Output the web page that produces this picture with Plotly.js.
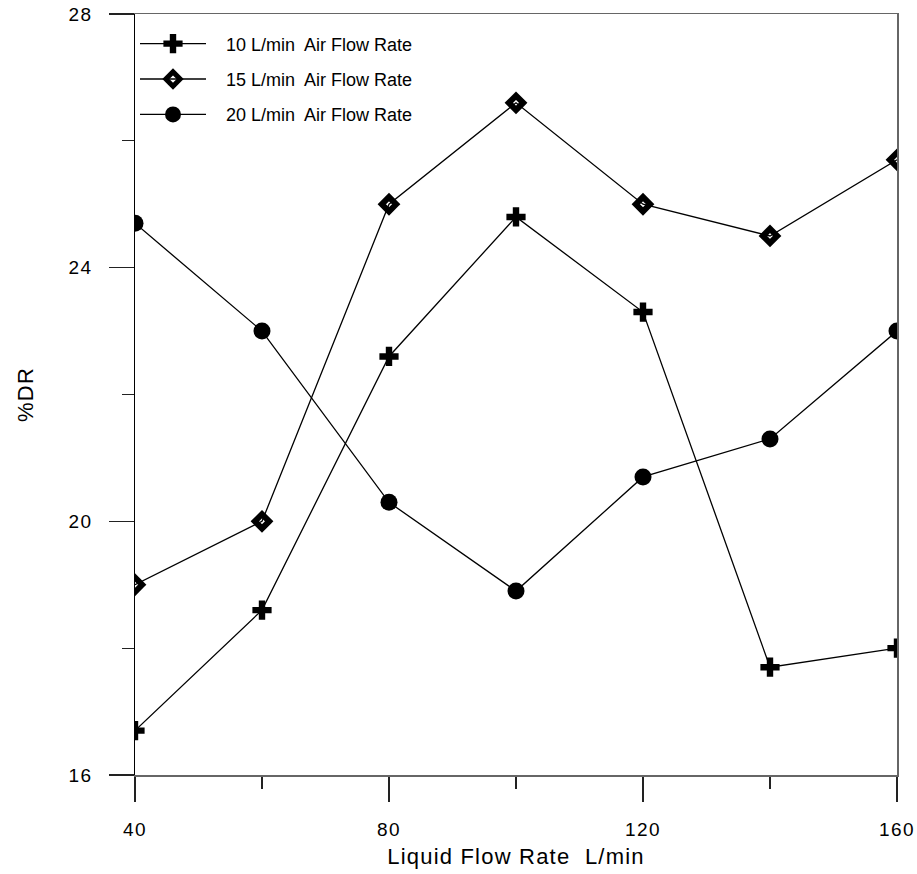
<!DOCTYPE html>
<html>
<head>
<meta charset="utf-8">
<script src="https://cdn.plot.ly/plotly-3.0.1.min.js"></script>
<style>
html,body{margin:0;padding:0;background:#fff;}
#chart{width:917px;height:874px;}
.main-svg .xtick text, .main-svg .ytick text{letter-spacing:1.5px;}
.main-svg .g-xtitle text, .main-svg .g-ytitle text{letter-spacing:1.2px;}
</style>
</head>
<body>
<div id="chart"></div>
<script>
var liquidFlow = [40, 60, 80, 100, 120, 140, 160];
var dr10 = [16.7, 18.6, 22.6, 24.8, 23.3, 17.7, 18.0];
var dr15 = [19.0, 20.0, 25.0, 26.6, 25.0, 24.5, 25.7];
var dr20 = [24.7, 23.0, 20.3, 18.9, 20.7, 21.3, 23.0];
var seriesNames = ["10 L/min  Air Flow Rate", "15 L/min  Air Flow Rate", "20 L/min  Air Flow Rate"];
var xTitle = "Liquid Flow Rate  L/min";
var yTitle = "%DR";

var FONT = "'Liberation Sans', Arial, sans-serif";
var PAD = "\u00a0\u00a0\u00a0";

var traces = [
  {x: liquidFlow, y: dr10, name: PAD + seriesNames[0], legendgroup: 'a', mode: 'lines+markers',
   line: {color: '#000', width: 1.3},
   marker: {symbol: 'cross', size: 16, color: '#000'}},
  {x: liquidFlow, y: dr15, name: PAD + seriesNames[1], legendgroup: 'b', mode: 'lines+markers',
   line: {color: '#000', width: 1.3},
   marker: {symbol: 'diamond-open', size: 11, color: '#000', line: {color: '#000', width: 6}}},
  {x: liquidFlow, y: dr20, name: PAD + seriesNames[2], legendgroup: 'c', mode: 'lines+markers',
   line: {color: '#000', width: 1.3},
   marker: {symbol: 'circle', size: 17, color: '#000'}},
  {x: [], y: [], yaxis: 'y2', showlegend: false, hoverinfo: 'skip'}
];

var layout = {
  width: 917, height: 874,
  margin: {l: 135, r: 20, t: 14, b: 99},
  paper_bgcolor: '#fff', plot_bgcolor: '#fff',
  font: {family: FONT, color: '#000', size: 19},
  showlegend: true,
  legend: {x: 0, y: 0.985, xanchor: 'left', yanchor: 'top', bgcolor: 'rgba(0,0,0,0)',
           font: {family: FONT, size: 18, color: '#000'}, itemwidth: 66,
           traceorder: 'grouped', tracegroupgap: 9},
  xaxis: {
    range: [40, 160], tick0: 40, dtick: 40, tickmode: 'linear',
    showgrid: false, zeroline: false,
    showline: true, linecolor: '#666', linewidth: 1.5, mirror: true,
    ticks: 'outside', ticklen: 25, tickwidth: 1.3, tickcolor: '#222',
    ticklabelstandoff: 12,
    minor: {dtick: 20, tick0: 40, ticks: 'outside', ticklen: 12, tickwidth: 1.3, tickcolor: '#222', showgrid: false},
    tickfont: {family: FONT, size: 19, color: '#000'},
    title: {text: xTitle, font: {family: FONT, size: 22, color: '#000'}, standoff: 9}
  },
  yaxis: {
    range: [16, 28], tick0: 16, dtick: 4, tickmode: 'linear',
    showgrid: false, zeroline: false,
    showline: true, linecolor: '#000', linewidth: 1.5, mirror: false,
    ticks: 'outside', ticklen: 25, tickwidth: 1.3, tickcolor: '#222',
    ticklabelstandoff: 12,
    minor: {dtick: 2, tick0: 16, ticks: 'outside', ticklen: 12, tickwidth: 1.3, tickcolor: '#222', showgrid: false},
    tickfont: {family: FONT, size: 19, color: '#000'},
    title: {text: yTitle, font: {family: FONT, size: 22, color: '#000'}, standoff: 32}
  },
  yaxis2: {
    overlaying: 'y', side: 'right', range: [16, 28], showgrid: false, zeroline: false,
    showline: true, linecolor: '#666', linewidth: 1.5, ticks: '', showticklabels: false
  }
};

Plotly.newPlot('chart', traces, layout, {displayModeBar: false, staticPlot: true});
</script>
</body>
</html>
